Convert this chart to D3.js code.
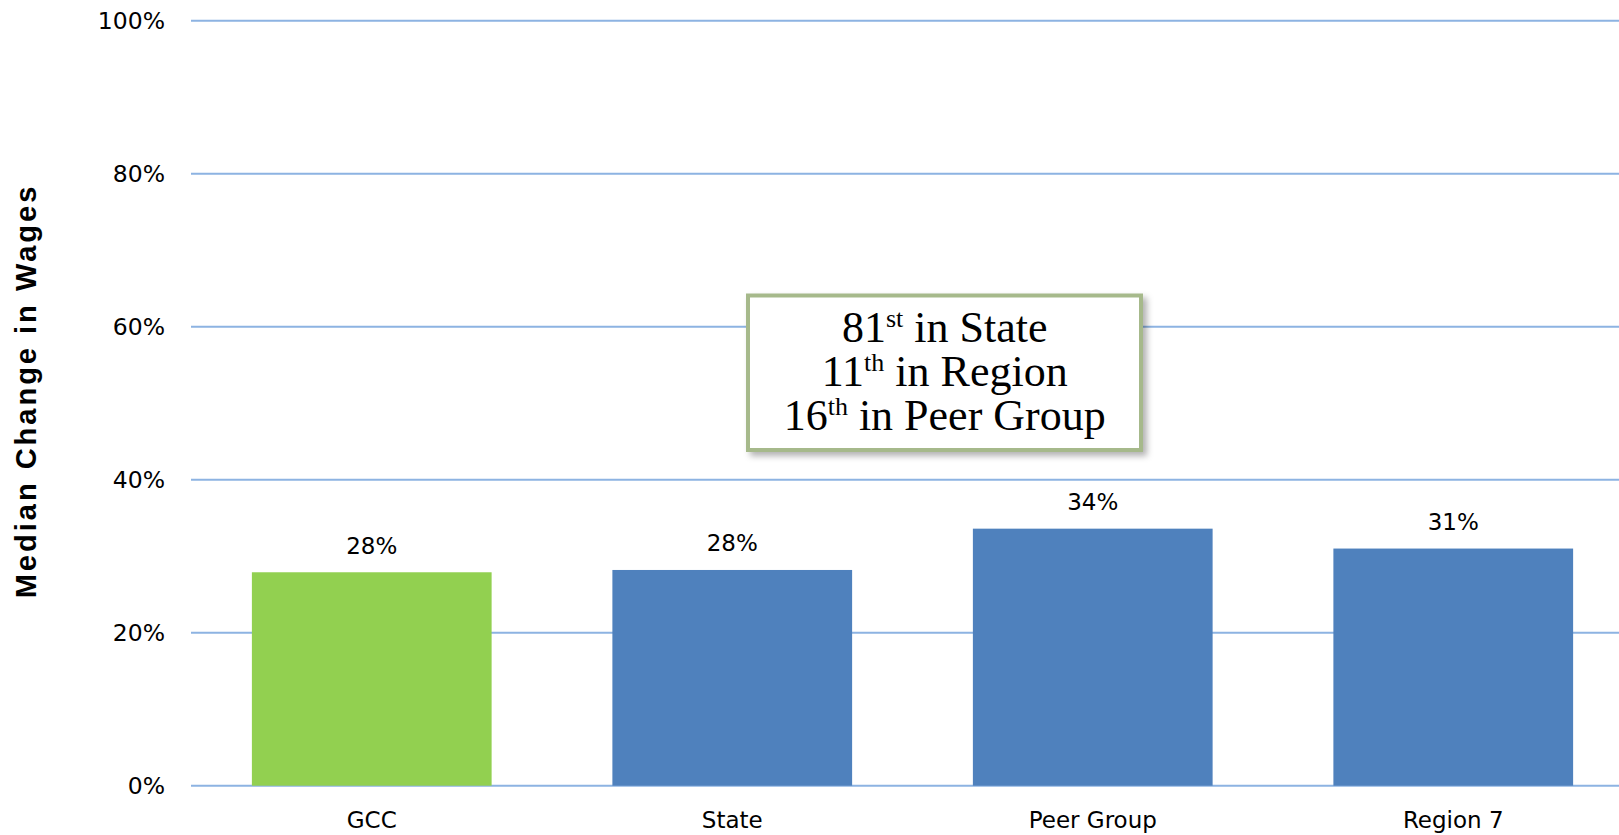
<!DOCTYPE html>
<html>
<head>
<meta charset="utf-8">
<script src="https://cdn.jsdelivr.net/npm/d3@7"></script>
<style>
  html, body { margin: 0; padding: 0; background: #fff; }
  svg { display: block; }
</style>
</head>
<body>
<div class="chart"></div>
<script>
var categories = ["GCC", "State", "Peer Group", "Region 7"];
var values = [0.279, 0.282, 0.336, 0.310];
var valueLabels = ["28%", "28%", "34%", "31%"];
var barColors = ["#92D050", "#4F81BD", "#4F81BD", "#4F81BD"];
var yTicks = [0, 0.2, 0.4, 0.6, 0.8, 1.0];
var rankLines = [
    ["81", "st", " in State"],
    ["11", "th", " in Region"],
    ["16", "th", " in Peer Group"]
];

var width = 1619, height = 835;

var svg = d3.select(".chart")
    .append("svg")
    .attr("width", width)
    .attr("height", height);

var x = d3.scaleBand()
    .domain(categories)
    .range([191.5, 1633.5])
    .paddingInner(0.335)
    .paddingOuter(0.1675);

var y = d3.scaleLinear()
    .domain([0, 1])
    .range([785.7, 20.7]);

// gridlines
svg.append("g")
    .selectAll("line")
    .data(yTicks)
    .enter()
    .append("line")
    .attr("x1", 191)
    .attr("x2", width)
    .attr("y1", function (d) { return y(d); })
    .attr("y2", function (d) { return y(d); })
    .attr("stroke", "#8DB3E2")
    .attr("stroke-width", 2);

// y axis labels
var yAxis = d3.axisLeft(y)
    .tickValues(yTicks)
    .tickFormat(d3.format(".0%"))
    .tickSize(0)
    .tickPadding(0);

svg.append("g")
    .attr("transform", "translate(165,0)")
    .call(yAxis)
    .call(function (g) { g.select(".domain").remove(); })
    .selectAll("text")
    .attr("font-family", "DejaVu Sans, Verdana, sans-serif")
    .attr("font-size", 23.5)
    .attr("fill", "#000");

// bars
svg.append("g")
    .selectAll("rect")
    .data(values)
    .enter()
    .append("rect")
    .attr("x", function (d, i) { return x(categories[i]); })
    .attr("y", function (d) { return y(d); })
    .attr("width", x.bandwidth())
    .attr("height", function (d) { return y(0) - y(d); })
    .attr("fill", function (d, i) { return barColors[i]; });

// value labels
svg.append("g")
    .selectAll("text")
    .data(values)
    .enter()
    .append("text")
    .attr("x", function (d, i) { return x(categories[i]) + x.bandwidth() / 2; })
    .attr("y", function (d) { return y(d) - 18.5; })
    .attr("text-anchor", "middle")
    .attr("font-family", "DejaVu Sans, Verdana, sans-serif")
    .attr("font-size", 23)
    .attr("fill", "#000")
    .text(function (d, i) { return valueLabels[i]; });

// category labels
var xAxis = d3.axisBottom(x).tickSize(0).tickPadding(0);
svg.append("g")
    .attr("transform", "translate(0,828)")
    .call(xAxis)
    .call(function (g) { g.select(".domain").remove(); })
    .selectAll("text")
    .attr("dy", 0)
    .attr("font-family", "DejaVu Sans, Verdana, sans-serif")
    .attr("font-size", 23)
    .attr("fill", "#000");

// axis title
svg.append("text")
    .attr("transform", "translate(36,391) rotate(-90)")
    .attr("text-anchor", "middle")
    .attr("font-family", "Liberation Sans, Arial, sans-serif")
    .attr("font-weight", "bold")
    .attr("font-size", 29)
    .attr("letter-spacing", 3)
    .attr("fill", "#000")
    .text("Median Change in Wages");

// annotation box with shadow
var defs = svg.append("defs");
var filter = defs.append("filter")
    .attr("id", "shadow")
    .attr("x", "-10%").attr("y", "-10%")
    .attr("width", "130%").attr("height", "140%");
filter.append("feDropShadow")
    .attr("dx", 4).attr("dy", 4)
    .attr("stdDeviation", 3)
    .attr("flood-color", "#000")
    .attr("flood-opacity", 0.3);

svg.append("rect")
    .attr("x", 748)
    .attr("y", 295.5)
    .attr("width", 393)
    .attr("height", 154.5)
    .attr("fill", "#fff")
    .attr("stroke", "#A6B98B")
    .attr("stroke-width", 4)
    .attr("filter", "url(#shadow)");

var box = svg.append("text")
    .attr("text-anchor", "middle")
    .attr("font-family", "Liberation Serif, Times New Roman, serif")
    .attr("font-size", 44)
    .attr("fill", "#000");

rankLines.forEach(function (line, i) {
    var t = box.append("tspan")
        .attr("x", 944.7)
        .attr("y", 341.5 + i * 44.3);
    t.append("tspan").text(line[0]);
    t.append("tspan")
        .attr("font-size", 26)
        .attr("dy", -15)
        .text(line[1]);
    t.append("tspan")
        .attr("dy", 15)
        .text(line[2]);
});
</script>
</body>
</html>
